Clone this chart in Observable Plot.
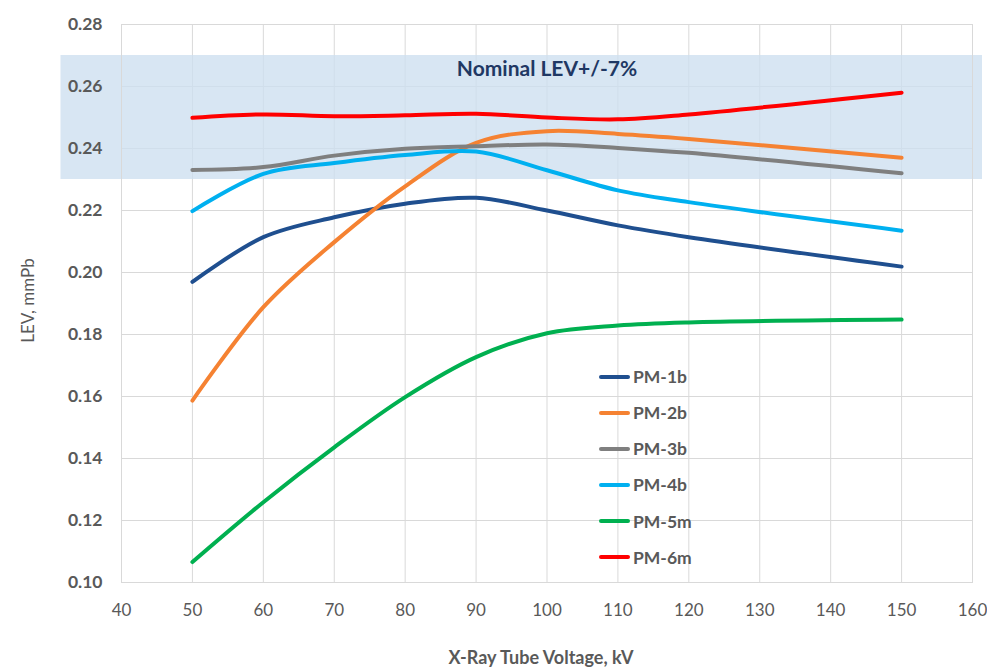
<!DOCTYPE html>
<html><head><meta charset="utf-8">
<script src="https://cdn.jsdelivr.net/npm/d3@7"></script>
<script src="https://cdn.jsdelivr.net/npm/@observablehq/plot@0.6"></script>
<style>
body{margin:0;background:#fff;}
#wrap{position:relative;width:987px;height:668px;font-family:Lato,sans-serif;}
#legend{position:absolute;left:599px;top:358.6px;}
.row{display:flex;align-items:center;height:36.1px;}
.sw{width:31px;height:4px;border-radius:2px;margin-right:3px;}
.lb{font-weight:700;font-size:17.5px;color:#595959;}
</style></head><body><div id="wrap"><div id="legend"></div></div>
<script>
// X-Ray tube voltage (kV)
const voltages = [50, 60, 70, 80, 90, 100, 110, 120, 150];
const seriesNames = ["PM-1b", "PM-2b", "PM-3b", "PM-4b", "PM-5m", "PM-6m"];
const seriesColors = ["#1f4f8f", "#f58232", "#7f7f7f", "#00b0f0", "#00b050", "#ff0000"];
// LEV, mmPb
const pm1b = [0.1970, 0.2114, 0.2178, 0.2222, 0.2241, 0.2200, 0.2152, 0.2114, 0.2019];
const pm2b = [0.1587, 0.1888, 0.2098, 0.2278, 0.2418, 0.2456, 0.2447, 0.2431, 0.2370];
const pm3b = [0.2331, 0.2340, 0.2377, 0.2399, 0.2407, 0.2413, 0.2402, 0.2386, 0.2320];
const pm4b = [0.2198, 0.2318, 0.2353, 0.2379, 0.2390, 0.2330, 0.2265, 0.2227, 0.2135];
const pm5m = [0.1066, 0.1259, 0.1436, 0.1598, 0.1727, 0.1804, 0.1829, 0.1839, 0.1848];
const pm6m = [0.2499, 0.2510, 0.2504, 0.2507, 0.2512, 0.2500, 0.2494, 0.2510, 0.2580];
const seriesValues = [pm1b, pm2b, pm3b, pm4b, pm5m, pm6m];
// Nominal band
const bandLow = 0.23, bandHigh = 0.27;
const bandLabel = "Nominal LEV+/-7%";
const bandLabelKv = 100, bandLabelLev = 0.2655;
// ticks
const xTicks = [40, 50, 60, 70, 80, 90, 100, 110, 120, 130, 140, 150, 160];
const yTicks = [0.10, 0.12, 0.14, 0.16, 0.18, 0.20, 0.22, 0.24, 0.26, 0.28];
const xTitle = "X-Ray Tube Voltage, kV";
const yTitle = "LEV, mmPb";

const rows = [];
seriesNames.forEach((s, i) => voltages.forEach((v, j) => rows.push({series: s, kv: v, lev: seriesValues[i][j]})));

const chart = Plot.plot({
  width: 987, height: 668,
  marginLeft: 121, marginRight: 15, marginTop: 24, marginBottom: 86,
  style: {fontFamily: "Lato, sans-serif", color: "#595959", background: "transparent", overflow: "visible"},
  x: {domain: [40, 160], label: null},
  y: {domain: [0.10, 0.28], label: null},
  color: {domain: seriesNames, range: seriesColors},
  marks: [
    Plot.gridX(xTicks, {stroke: "#d9d9d9", strokeOpacity: 1}),
    Plot.gridY(yTicks, {stroke: "#d9d9d9", strokeOpacity: 1}),
    Plot.rect([{lo: bandLow, hi: bandHigh}], {y1: "lo", y2: "hi", fill: "#cddfef", fillOpacity: 0.78, insetLeft: -60.5, insetRight: -10}),
    Plot.frame({stroke: "#d9d9d9"}),
    Plot.line(rows, {x: "kv", y: "lev", z: "series", stroke: "series", strokeWidth: 4, curve: "catmull-rom", strokeLinecap: "round", strokeLinejoin: "round"}),
    Plot.text([{t: bandLabel, x: bandLabelKv, y: bandLabelLev}], {x: "x", y: "y", text: "t", fontSize: 21, fontWeight: "bold", fill: "#1f3864"}),
    Plot.axisY(yTicks, {tickSize: 0, tickPadding: 19, tickFormat: d => d.toFixed(2), fontSize: 17.5, fontWeight: "bold", label: null}),
    Plot.axisX(xTicks, {tickSize: 0, tickPadding: 21, fontSize: 17, label: null}),
    Plot.text([yTitle], {frameAnchor: "left", textAnchor: "middle", lineAnchor: "middle", dx: -93, dy: -3, rotate: -90, fontSize: 17, fill: "#595959"}),
    Plot.text([xTitle], {frameAnchor: "bottom", textAnchor: "middle", lineAnchor: "middle", dy: 76, dx: -6, fontSize: 18, fontWeight: "bold", fill: "#595959"})
  ]
});
document.getElementById("wrap").prepend(chart);

const legend = document.getElementById("legend");
seriesNames.forEach((s, i) => {
  const r = document.createElement("div"); r.className = "row";
  const sw = document.createElement("div"); sw.className = "sw"; sw.style.background = seriesColors[i];
  const lb = document.createElement("div"); lb.className = "lb"; lb.textContent = s;
  r.append(sw, lb); legend.append(r);
});
</script></body></html>
